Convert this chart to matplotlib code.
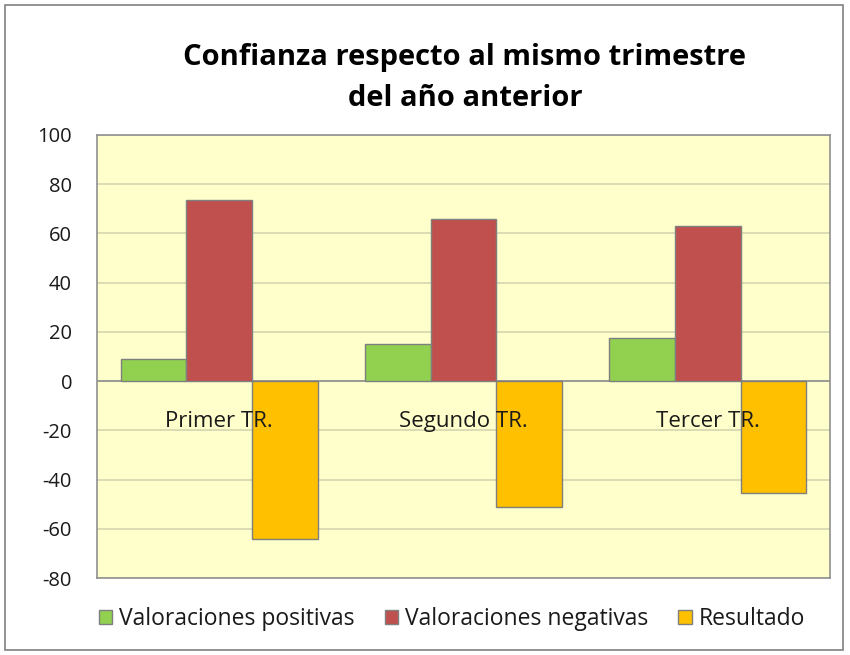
import numpy as np
import matplotlib.pyplot as plt
from matplotlib.patches import Rectangle

categorias = ['Primer TR.', 'Segundo TR.', 'Tercer TR.']
positivas = [9, 15, 17.5]
negativas = [73.5, 66, 63]
resultado = [-64, -51, -45.5]

series = ['Valoraciones positivas', 'Valoraciones negativas', 'Resultado']
colores = ['#92D050', '#C0504D', '#FFC000']

plt.rcParams['font.family'] = ['Open Sans', 'DejaVu Sans']
plt.rcParams['axes.unicode_minus'] = False

fig = plt.figure(figsize=(8.5, 6.55), dpi=100)
fig.patches.append(Rectangle((5 / 850, 5 / 655), 838 / 850, 645 / 655, transform=fig.transFigure,
                             fill=False, edgecolor='#808080', linewidth=1.2))

ax = fig.add_axes([97 / 850, 1 - 578 / 655, 733 / 850, 443 / 655])
ax.set_facecolor('#FFFFCC')

x = np.arange(len(categorias))
w = 0.269
for k, (vals, col, nombre) in enumerate(zip([positivas, negativas, resultado], colores, series)):
    ax.bar(x + (k - 1) * w, vals, w, color=col, edgecolor='#7F7F7F', linewidth=1.0,
           label=nombre, zorder=3)

for i, c in enumerate(categorias):
    ax.text(i, -16.5, c, ha='center', va='center', fontsize=16, color='#1a1a1a', zorder=4)

ax.set_xlim(-0.5, 2.5)
ax.set_ylim(-80, 100)
ax.set_yticks(range(-80, 101, 20))
ax.set_xticks([])
ax.tick_params(axis='y', length=0, labelsize=14.5, pad=18, labelcolor='#1a1a1a')
ax.grid(axis='y', color='#D4D4B0', linewidth=1.2, zorder=0)
ax.axhline(0, color='#909090', linewidth=1.2, zorder=2)
for s in ax.spines.values():
    s.set_color('#909090')
    s.set_linewidth(1.2)

fig.text(0.547, 1 - 58 / 655, 'Confianza respecto al mismo trimestre', ha='center', va='center',
         fontsize=21, fontweight='bold')
fig.text(0.547, 1 - 98 / 655, 'del año anterior', ha='center', va='center',
         fontsize=21, fontweight='bold')

fig.legend(loc='center left', bbox_to_anchor=(78 / 850, 1 - 619 / 655), ncol=3, frameon=False,
           fontsize=16.5, handlelength=0.6, handleheight=0.6, handletextpad=0.3, columnspacing=1.3,
           labelcolor='#1a1a1a')

fig.savefig('out.png', dpi=100)
